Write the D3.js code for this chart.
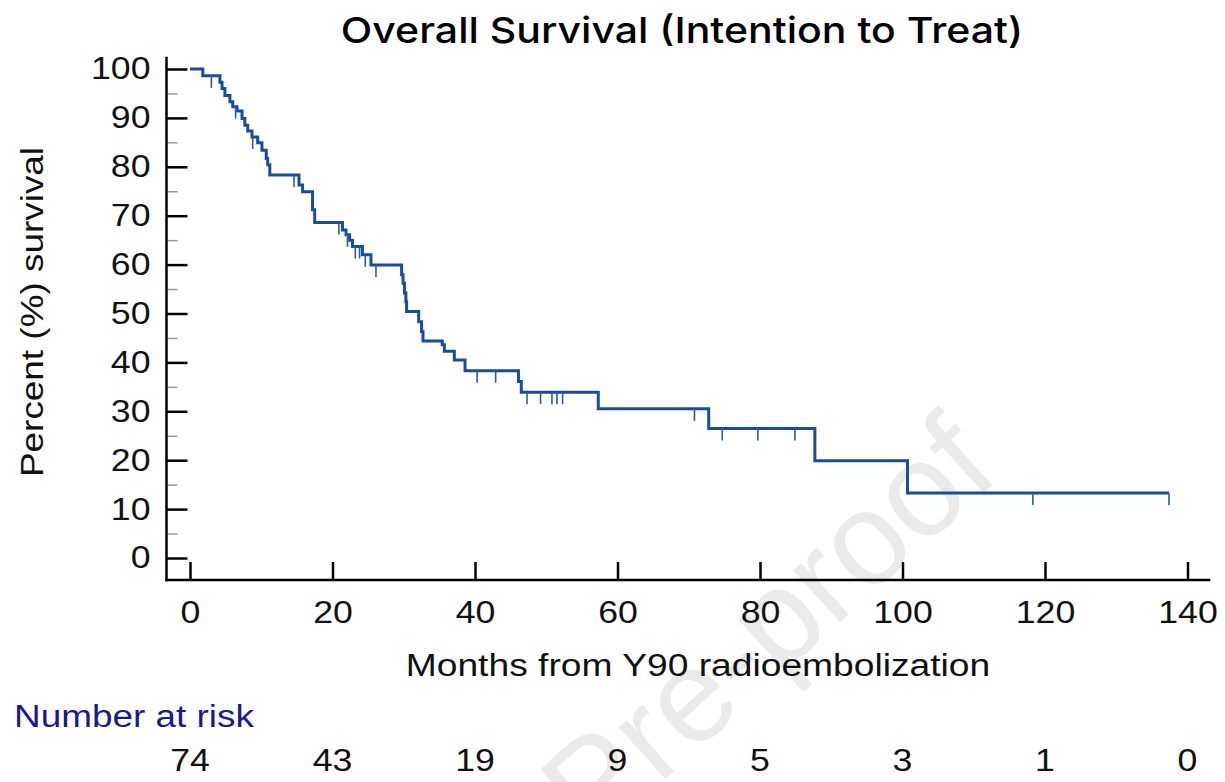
<!DOCTYPE html>
<html lang="en">

<head>
    <meta charset="UTF-8">
    <title>Overall Survival (Intention to Treat)</title>
    <script src="https://cdn.jsdelivr.net/npm/d3@7"></script>
</head>
<style>
    body {
        margin: 0;
        background: #fff;
    }

    text {
        font-family: "Liberation Sans", Arial, sans-serif;
    }

    .axis path {
        display: none;
    }

    .axis .tick line {
        stroke: #000;
        stroke-width: 2.5;
    }

    .axis .tick text {
        font-size: 31px;
        fill: #111;
    }

    .minor .tick line {
        stroke: #9a9a9a;
        stroke-width: 1.5;
    }

    .axisline {
        stroke: #000;
        stroke-width: 2.5;
    }
</style>

<body>
    <svg></svg>
</body>

</html>
<script>
    // Kaplan-Meier steps: month of each drop, survival (%) after it
    const eventMonths = [1.8, 4.2, 4.5, 4.9, 5.6, 6.0, 6.6, 7.3, 7.7, 8.1, 8.7, 9.5, 10.1, 10.7, 10.9, 11.2,
        15.3, 15.8, 17.2, 17.5, 21.4, 21.9, 22.4, 22.8, 24.2, 25.4, 29.7, 29.9, 30.1, 30.3, 30.4,
        32.1, 32.5, 32.7, 35.4, 35.7, 37.1, 38.6, 46.1, 46.5, 57.3, 72.8, 87.7, 100.7];
    const survivalPct = [98.6, 97.3, 96.0, 94.6, 93.3, 92.3, 91.4, 89.9, 88.5, 87.3, 86.1, 84.9, 83.4, 81.7, 80.4, 78.3,
        76.3, 74.9, 71.2, 68.6, 67.1, 66.1, 65.0, 63.7, 62.0, 59.9, 57.9, 56.2, 54.2, 52.4, 50.4,
        48.3, 46.3, 44.4, 43.6, 42.3, 40.5, 38.3, 36.1, 33.9, 30.5, 26.5, 19.9, 13.3];
    const censorMonths = [3.0, 6.4, 8.8, 14.6, 20.9, 22.1, 23.2, 23.8, 24.6, 26.1, 40.3, 42.9, 47.3, 49.2,
        50.8, 51.5, 52.3, 70.8, 74.7, 79.7, 84.9, 118.3, 137.4];
    const lastMonth = 137.4;

    const xTicks = [0, 20, 40, 60, 80, 100, 120, 140];
    const yTicks = [0, 10, 20, 30, 40, 50, 60, 70, 80, 90, 100];
    const yMinorTicks = [5, 15, 25, 35, 45, 55, 65, 75, 85, 95];
    const atRisk = [74, 43, 19, 9, 5, 3, 1, 0];

    // the source font is wider than Arial, so widen glyphs a bit
    function widen(sel, k) {
        sel.each(function () {
            const w = this.getComputedTextLength()
            d3.select(this).attr('textLength', w * k).attr('lengthAdjust', 'spacingAndGlyphs')
        })
    }

    window.onload = function () {
        const W = 1225, H = 782;
        const svg = d3.select('svg').attr('width', W).attr('height', H)

        const x = d3.scaleLinear().domain([0, 140]).range([190, 1187.5])
        const y = d3.scaleLinear().domain([0, 100]).range([558, 69])
        const xAxisY = 580
        const yAxisX = 166.5

        // watermark
        svg.append('text')
            .attr('transform', 'translate(1002,476) rotate(-42)')
            .attr('text-anchor', 'end')
            .style('font-size', '132px')
            .style('fill', '#eaeaea')
            .text('Journal Pre-proof')

        // y axis: major + minor inward ticks
        svg.append('g')
            .attr('class', 'axis minor')
            .attr('transform', `translate(${yAxisX},0)`)
            .call(d3.axisLeft(y).tickValues(yMinorTicks).tickSize(-11).tickFormat(''))

        svg.append('g')
            .attr('class', 'axis')
            .attr('transform', `translate(${yAxisX},0)`)
            .call(d3.axisLeft(y).tickValues(yTicks).tickSize(-21).tickPadding(16))

        svg.append('g')
            .attr('class', 'axis')
            .attr('transform', `translate(0,${xAxisY})`)
            .call(d3.axisBottom(x).tickValues(xTicks).tickSize(-18).tickPadding(21))

        widen(svg.selectAll('.axis .tick text'), 1.15)

        svg.append('line').attr('class', 'axisline')
            .attr('x1', yAxisX).attr('x2', yAxisX)
            .attr('y1', y(102.5)).attr('y2', xAxisY + 1.2)
        svg.append('line').attr('class', 'axisline')
            .attr('x1', yAxisX - 1.2).attr('x2', x(143.2))
            .attr('y1', xAxisY).attr('y2', xAxisY)

        // survival curve
        const pts = [{ t: 0, s: 100 }]
        eventMonths.forEach((t, i) => pts.push({ t: t, s: survivalPct[i] }))
        pts.push({ t: lastMonth, s: survivalPct[survivalPct.length - 1] })

        const line = d3.line()
            .x(d => x(d.t))
            .y(d => y(d.s))
            .curve(d3.curveStepAfter)

        svg.append('path')
            .datum(pts)
            .attr('fill', 'none')
            .attr('stroke', '#1a4c9c')
            .attr('stroke-width', 3)
            .attr('d', line)

        // censor marks
        function survAt(t) {
            let s = 100
            eventMonths.forEach((m, i) => { if (m <= t) s = survivalPct[i] })
            return s
        }
        svg.selectAll('.censor')
            .data(censorMonths)
            .enter()
            .append('line')
            .attr('class', 'censor')
            .attr('x1', d => x(d)).attr('x2', d => x(d))
            .attr('y1', d => y(survAt(d)))
            .attr('y2', d => y(survAt(d)) + 12)
            .attr('stroke', '#2a5aa8')
            .attr('stroke-width', 1.6)

        // titles
        const title = svg.append('text')
            .attr('x', 682)
            .attr('y', 43)
            .attr('text-anchor', 'middle')
            .style('font-family', 'Inter, "Liberation Sans", sans-serif')
            .style('font-weight', 500)
            .style('font-size', '36px')
            .text('Overall Survival (Intention to Treat)')
        widen(title, 1.14)

        const xl = svg.append('text')
            .attr('x', 698)
            .attr('y', 676)
            .attr('text-anchor', 'middle')
            .style('font-size', '31px')
            .style('fill', '#111')
            .text('Months from Y90 radioembolization')
        widen(xl, 1.2)

        const yl = svg.append('text')
            .attr('transform', `translate(43,312) rotate(-90)`)
            .attr('text-anchor', 'middle')
            .style('font-size', '31px')
            .style('fill', '#111')
            .text('Percent (%) survival')
        widen(yl, 1.19)

        // number at risk table
        const nar = svg.append('text')
            .attr('x', 14)
            .attr('y', 727)
            .style('font-size', '31px')
            .style('fill', '#1a1a8a')
            .text('Number at risk')
        widen(nar, 1.19)

        const risk = svg.selectAll('.risk')
            .data(atRisk)
            .enter()
            .append('text')
            .attr('class', 'risk')
            .attr('x', (d, i) => x(xTicks[i]))
            .attr('y', 771)
            .attr('text-anchor', 'middle')
            .style('font-size', '31px')
            .style('fill', '#111')
            .text(d => d)
        widen(risk, 1.15)
    }
</script>
